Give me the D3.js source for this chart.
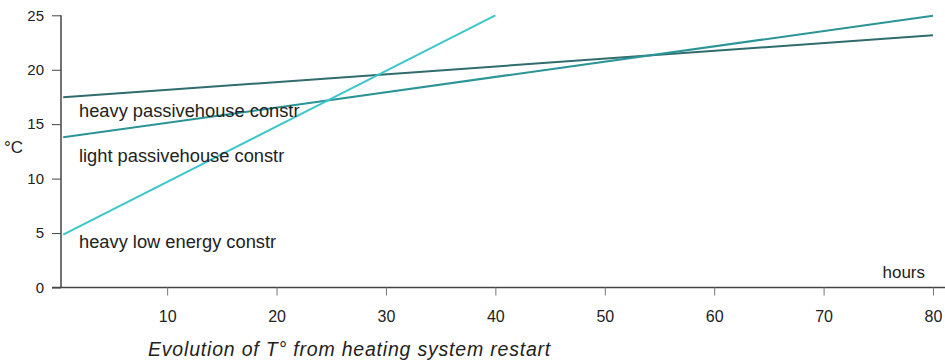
<!DOCTYPE html>
<html>
<head>
<meta charset="utf-8">
<script src="https://d3js.org/d3.v7.min.js"></script>
<title>Evolution of T° from heating system restart</title>
<style>
body { margin: 0; background: #fff; }
svg { display: block; font-family: "Liberation Sans", Arial, sans-serif; }
</style>
</head>
<body>
<svg id="svg" width="945" height="363"></svg>
<script>

// data (hours, °C)
let seriesNames = ["heavy passivehouse constr", "light passivehouse constr", "heavy low energy constr"];
let seriesColors = ["#2f6c6e", "#2b9496", "#3cc6ca"];
let heavyPassive = [[0.5, 17.47], [80, 23.16]];
let lightPassive = [[0.5, 13.79], [80, 24.96]];
let heavyLowEnergy = [[0.5, 4.85], [40, 25]];
let labelY = [15.67, 11.5, 3.65]; // °C value at the label baseline
let xTicks = [10, 20, 30, 40, 50, 60, 70, 80];
let yTicks = [0, 5, 10, 15, 20, 25];

let svg = d3.select("svg");
let axisColor = "#444";
let textColor = "#222";

let x = d3.scaleLinear().domain([0.3, 80]).range([61, 933]);
let y = d3.scaleLinear().domain([0, 25]).range([287.5, 15.3]);

// y axis
let yAxis = svg.append("g")
  .attr("transform", "translate(" + x(0.3) + ",0)")
  .call(d3.axisLeft(y).tickValues(yTicks).tickSize(9).tickPadding(8));
yAxis.select(".domain").attr("stroke", axisColor).attr("stroke-width", 1.5)
  .attr("d", "M0," + y(25) + "V" + y(0));
yAxis.selectAll(".tick line").attr("stroke", axisColor);
yAxis.selectAll(".tick text").attr("fill", textColor).style("font-size", "15px")
  .attr("font-family", null);

// x axis, runs to the right edge
let xAxis = svg.append("g")
  .attr("transform", "translate(0," + y(0) + ")")
  .call(d3.axisBottom(x).tickValues(xTicks).tickSize(8).tickPadding(15));
xAxis.select(".domain").attr("stroke", axisColor).attr("stroke-width", 1.5)
  .attr("d", "M" + (x(0.3) - 9) + ",0H945");
xAxis.selectAll(".tick line").attr("stroke", "#777");
xAxis.selectAll(".tick text").attr("fill", textColor).style("font-size", "16px")
  .attr("font-family", null);

// lines
let line = d3.line().x(d => x(d[0])).y(d => y(d[1]));
let allSeries = [heavyPassive, lightPassive, heavyLowEnergy];

svg.selectAll(".series")
  .data(allSeries)
  .enter().append("path")
  .attr("class", "series")
  .attr("d", line)
  .attr("fill", "none")
  .attr("stroke", (d, i) => seriesColors[i])
  .attr("stroke-width", 2);

// series labels
svg.selectAll(".label")
  .data(seriesNames)
  .enter().append("text")
  .attr("class", "label")
  .attr("x", x(0.3) + 18)
  .attr("y", (d, i) => y(labelY[i]))
  .attr("fill", textColor)
  .style("font-size", "18.3px")
  .text(d => d);

// axis titles
svg.append("text")
  .attr("x", 4).attr("y", 153)
  .attr("fill", textColor)
  .style("font-size", "17px")
  .text("°C");

svg.append("text")
  .attr("x", 925).attr("y", 278)
  .attr("text-anchor", "end")
  .attr("fill", textColor)
  .style("font-size", "17px")
  .text("hours");

svg.append("text")
  .attr("x", 148).attr("y", 356)
  .attr("fill", textColor)
  .style("font-size", "19.5px")
  .style("font-style", "italic")
  .style("letter-spacing", "0.8px")
  .text("Evolution of T° from heating system restart");

</script>
</body>
</html>
